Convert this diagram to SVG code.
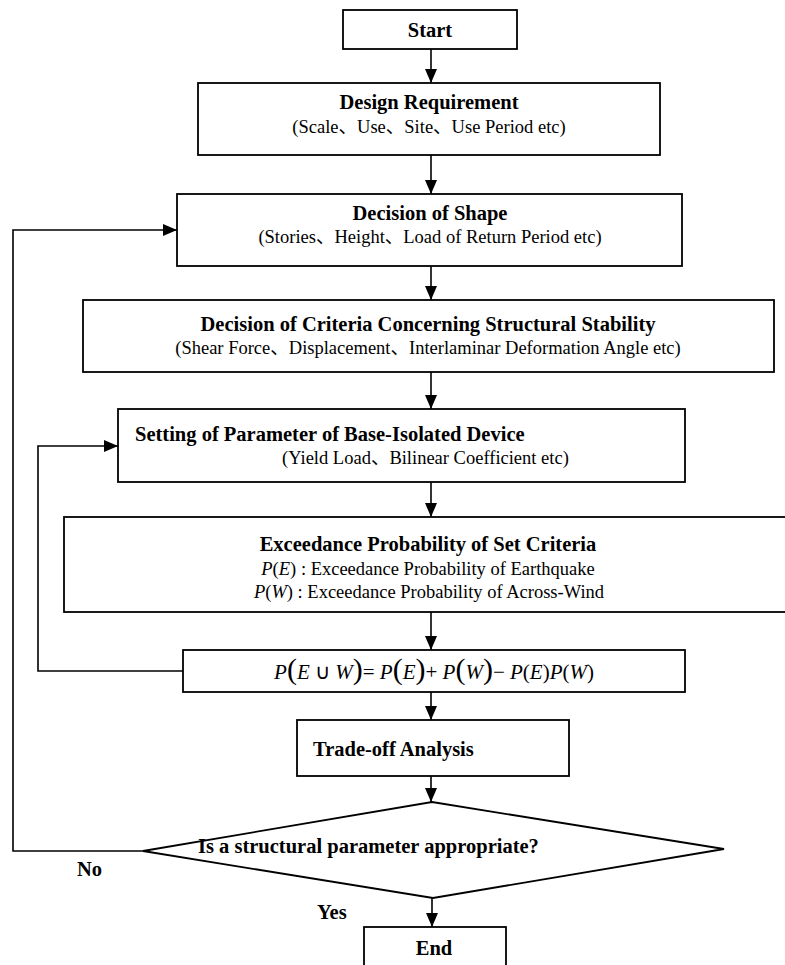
<svg xmlns="http://www.w3.org/2000/svg" width="785" height="965" viewBox="0 0 785 965">
<style>
.box{fill:#fff;stroke:#000;stroke-width:1.8}
.ln{fill:none;stroke:#000;stroke-width:1.6}
.t{font-family:"Liberation Serif","Noto Sans CJK JP",serif;font-size:20.5px;font-weight:bold;fill:#000}
.s{font-family:"Liberation Serif","Noto Sans CJK JP",serif;font-size:18.5px;fill:#000}
.m{font-family:"Liberation Serif","Times New Roman",serif;font-size:21px;fill:#000}
.i{font-style:italic}
.bp{font-size:30px}
</style>
<defs>
<marker id="ahv" viewBox="0 0 14 12" refX="14" refY="6" markerWidth="14" markerHeight="12" markerUnits="userSpaceOnUse" orient="auto">
<path d="M0,0 L14,6 L0,12 Z" fill="#000"/>
</marker>
</defs>
<g id="connectors">
<line class="ln" x1="431" y1="49" x2="431" y2="83" marker-end="url(#ahv)"/>
<line class="ln" x1="431" y1="155" x2="431" y2="194" marker-end="url(#ahv)"/>
<line class="ln" x1="431" y1="266" x2="431" y2="300" marker-end="url(#ahv)"/>
<line class="ln" x1="431" y1="372" x2="431" y2="409" marker-end="url(#ahv)"/>
<line class="ln" x1="431" y1="482" x2="431" y2="517" marker-end="url(#ahv)"/>
<line class="ln" x1="431" y1="612" x2="431" y2="650" marker-end="url(#ahv)"/>
<line class="ln" x1="431" y1="692" x2="431" y2="720" marker-end="url(#ahv)"/>
<line class="ln" x1="431" y1="776" x2="431" y2="802" marker-end="url(#ahv)"/>
<line class="ln" x1="432" y1="898" x2="432" y2="927" marker-end="url(#ahv)"/>
<polyline class="ln" points="143,851 13,851 13,230 177,230" marker-end="url(#ahv)"/>
<polyline class="ln" points="183,671 38,671 38,446 118,446" marker-end="url(#ahv)"/>
</g>
<g id="start">
<rect class="box" x="343" y="10" width="174" height="39"/>
<text class="t" x="430" y="37" text-anchor="middle">Start</text>
</g>
<g id="design">
<rect class="box" x="198" y="83" width="462" height="72"/>
<text class="t" x="429" y="109" text-anchor="middle">Design Requirement</text>
<text class="s" x="429" y="133" text-anchor="middle">(Scale、Use、Site、Use Period etc)</text>
</g>
<g id="shape">
<rect class="box" x="177" y="194" width="505" height="72"/>
<text class="t" x="430" y="220" text-anchor="middle">Decision of Shape</text>
<text class="s" x="430" y="243" text-anchor="middle">(Stories、Height、Load of Return Period etc)</text>
</g>
<g id="criteria">
<rect class="box" x="83" y="300" width="691" height="72"/>
<text class="t" x="428" y="331" text-anchor="middle">Decision of Criteria Concerning Structural Stability</text>
<text class="s" x="428" y="354" text-anchor="middle">(Shear Force、Displacement、Interlaminar Deformation Angle etc)</text>
</g>
<g id="setting">
<rect class="box" x="118" y="409" width="567" height="73"/>
<text class="t" x="135" y="441">Setting of Parameter of Base-Isolated Device</text>
<text class="s" x="282" y="464">(Yield Load、Bilinear Coefficient etc)</text>
</g>
<g id="exceedance">
<rect class="box" x="64" y="517" width="730" height="95"/>
<text class="t" x="428" y="551" text-anchor="middle">Exceedance Probability of Set Criteria</text>
<text class="s" x="428" y="575" text-anchor="middle"><tspan class="i">P</tspan>(<tspan class="i">E</tspan>) : Exceedance Probability of Earthquake</text>
<text class="s" x="429" y="598" text-anchor="middle"><tspan class="i">P</tspan>(<tspan class="i">W</tspan>) : Exceedance Probability of Across-Wind</text>
</g>
<g id="formula">
<rect class="box" x="183" y="650" width="502" height="42"/>
<text class="m" x="434" y="679" text-anchor="middle"><tspan class="i">P</tspan><tspan class="bp">(</tspan><tspan class="i">E</tspan> ∪ <tspan class="i">W</tspan><tspan class="bp">)</tspan>= <tspan class="i">P</tspan><tspan class="bp">(</tspan><tspan class="i">E</tspan><tspan class="bp">)</tspan>+ <tspan class="i">P</tspan><tspan class="bp">(</tspan><tspan class="i">W</tspan><tspan class="bp">)</tspan>− <tspan class="i">P</tspan>(<tspan class="i">E</tspan>)<tspan class="i">P</tspan>(<tspan class="i">W</tspan>)</text>
</g>
<g id="tradeoff">
<rect class="box" x="297" y="720" width="272" height="56"/>
<text class="t" x="313" y="756">Trade-off Analysis</text>
</g>
<g id="decision">
<polygon class="box" points="432,802 724,849 433,898 143,851"/>
<text class="t" x="198" y="853">Is a structural parameter appropriate?</text>
</g>
<g id="labels">
<text class="t" x="77" y="876">No</text>
<text class="t" x="317" y="919">Yes</text>
</g>
<g id="end">
<rect class="box" x="364" y="927" width="142" height="40"/>
<text class="t" x="434" y="955" text-anchor="middle">End</text>
</g>
</svg>
